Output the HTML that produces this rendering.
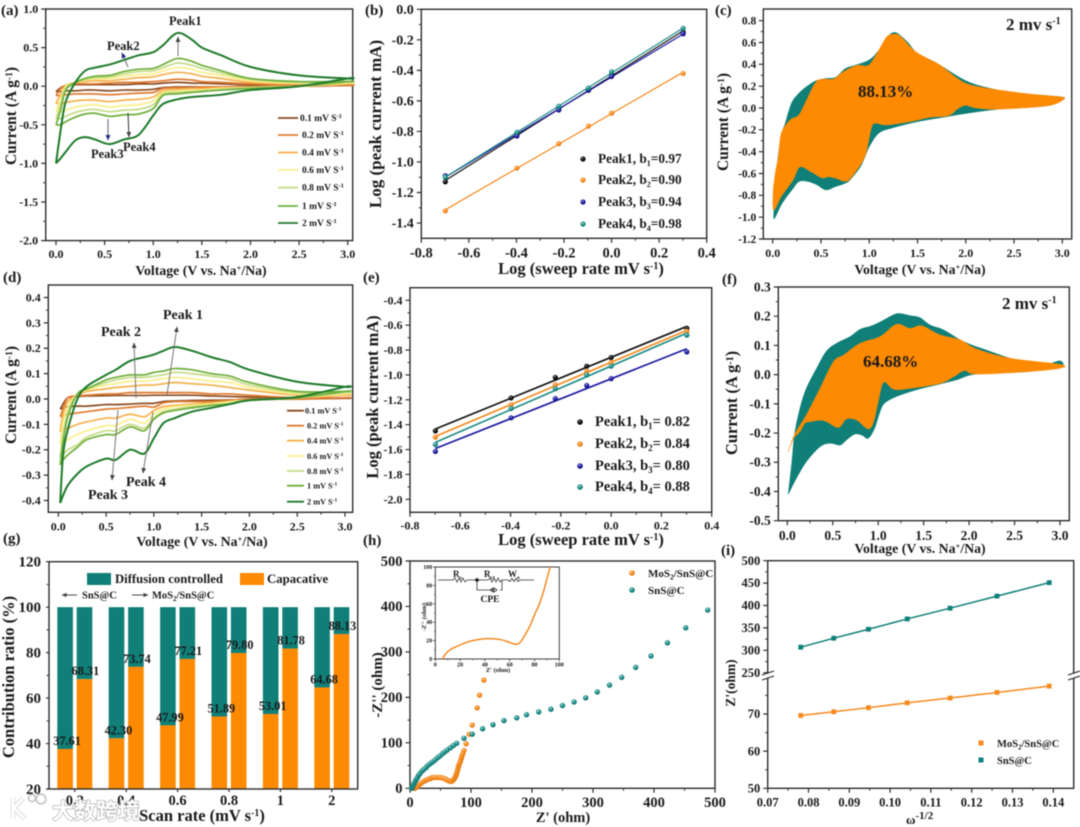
<!DOCTYPE html>
<html lang="en">
<head>
<meta charset="utf-8">
<title>Electrochemical analysis figure</title>
<style>
html,body{margin:0;padding:0;background:#fff;}
#figure{display:block;filter:blur(0.5px);}
text{font-family:"Liberation Serif","Noto Serif CJK SC",serif;font-weight:bold;fill:#1a1a1a;}
.wm{font-family:"Liberation Sans","Noto Sans CJK SC",sans-serif;font-weight:bold;}
</style>
</head>
<body>
<svg id="figure" xmlns="http://www.w3.org/2000/svg" width="1080" height="827" viewBox="0 0 1080 827">
<defs>
  <radialGradient id="sphere-black" cx="40%" cy="35%" r="65%"><stop offset="0" stop-color="#999"/><stop offset=".45" stop-color="#111"/><stop offset="1" stop-color="#000"/></radialGradient>
  <radialGradient id="sphere-orange" cx="40%" cy="35%" r="65%"><stop offset="0" stop-color="#ffd9a8"/><stop offset=".5" stop-color="#f58a1f"/><stop offset="1" stop-color="#e87a10"/></radialGradient>
  <radialGradient id="sphere-blue" cx="40%" cy="35%" r="65%"><stop offset="0" stop-color="#a8a8f0"/><stop offset=".5" stop-color="#1a1aa0"/><stop offset="1" stop-color="#10107a"/></radialGradient>
  <radialGradient id="sphere-teal" cx="40%" cy="35%" r="65%"><stop offset="0" stop-color="#b0e4e0"/><stop offset=".5" stop-color="#1e8c86"/><stop offset="1" stop-color="#0f7570"/></radialGradient>
  <marker id="ah-gray" markerWidth="6" markerHeight="6" refX="5" refY="3" orient="auto"><path d="M0,0.6 L5.5,3 L0,5.4 Z" fill="#444"/></marker>
  <marker id="ah-blue" markerWidth="6" markerHeight="6" refX="5" refY="3" orient="auto"><path d="M0,0.6 L5.5,3 L0,5.4 Z" fill="#1c2a80"/></marker>
  <clipPath id="inset-clip"><rect x="435.3" y="567" width="124" height="92"/></clipPath>
</defs>
<rect width="1080" height="827" fill="#fff"/>

<!-- Panel a -->
<g id="panel-a"></g>
<g>
  <text x="1" y="15" font-size="15">(a)</text>
  <text transform="translate(16 116) rotate(-90)" text-anchor="middle" font-size="15.5">Current (A g<tspan dy="-4" font-size="9.5">-1</tspan><tspan dy="4">)</tspan></text>
  <text x="201" y="275" text-anchor="middle" font-size="13.8">Voltage (V vs. Na<tspan dy="-4" font-size="8.5">+</tspan><tspan dy="4">/Na)</tspan></text>
  <text x="169" y="25" font-size="12.5">Peak1</text>
  <text x="107" y="50" font-size="12.5">Peak2</text>
  <text x="91" y="158" font-size="12.5">Peak3</text>
  <text x="123" y="151" font-size="12.5">Peak4</text>
  <line x1="178" y1="56" x2="178" y2="37" stroke="#777" stroke-width="1" marker-end="url(#ah-gray)"/>
  <line x1="128" y1="67" x2="122" y2="53" stroke="#667" stroke-width="1" marker-end="url(#ah-blue)"/>
  <line x1="108" y1="119" x2="108" y2="140" stroke="#667" stroke-width="1" marker-end="url(#ah-blue)"/>
  <line x1="128" y1="113" x2="129" y2="137" stroke="#333" stroke-width="1" marker-end="url(#ah-gray)"/>
  <g font-size="9.5">
    <line x1="278" y1="118" x2="298" y2="118" stroke="#8b4a20" stroke-width="1.8"/><text x="300" y="121">0.1 mV S<tspan dy="-3" font-size="6.5">-1</tspan></text>
    <line x1="278" y1="135" x2="298" y2="135" stroke="#e07b30" stroke-width="1.8"/><text x="302" y="138">0.2 mV S<tspan dy="-3" font-size="6.5">-1</tspan></text>
    <line x1="278" y1="152.5" x2="298" y2="152.5" stroke="#f5b14c" stroke-width="1.8"/><text x="302" y="155.5">0.4 mV S<tspan dy="-3" font-size="6.5">-1</tspan></text>
    <line x1="278" y1="170" x2="298" y2="170" stroke="#fbef8a" stroke-width="1.8"/><text x="302" y="173">0.6 mV S<tspan dy="-3" font-size="6.5">-1</tspan></text>
    <line x1="278" y1="187.7" x2="298" y2="187.7" stroke="#c5dc85" stroke-width="1.8"/><text x="302" y="190.7">0.8 mV S<tspan dy="-3" font-size="6.5">-1</tspan></text>
    <line x1="278" y1="206" x2="298" y2="206" stroke="#6fae3c" stroke-width="1.8"/><text x="302" y="209">1 mV S<tspan dy="-3" font-size="6.5">-1</tspan></text>
    <line x1="278" y1="223" x2="298" y2="223" stroke="#1f7a2a" stroke-width="1.8"/><text x="302" y="226">2 mV S<tspan dy="-3" font-size="6.5">-1</tspan></text>
  </g>
</g>

<!-- Panel b -->
<g id="panel-b"></g>
<g>
  <text x="365" y="15" font-size="15">(b)</text>
  <text transform="translate(381 124) rotate(-90)" text-anchor="middle" font-size="17">Log (peak current mA)</text>
  <text x="581" y="274" text-anchor="middle" font-size="16.5">Log (sweep rate mV s<tspan dy="-5" font-size="10">-1</tspan><tspan dy="5">)</tspan></text>
  <g font-size="13.3">
    <circle cx="583" cy="159" r="2.6" fill="url(#sphere-black)"/><text x="598" y="163">Peak1, b<tspan dy="3" font-size="8">1</tspan><tspan dy="-3">=0.97</tspan></text>
    <circle cx="583" cy="180" r="2.6" fill="url(#sphere-orange)"/><text x="598" y="184">Peak2, b<tspan dy="3" font-size="8">2</tspan><tspan dy="-3">=0.90</tspan></text>
    <circle cx="583" cy="202" r="2.6" fill="url(#sphere-blue)"/><text x="598" y="206">Peak3, b<tspan dy="3" font-size="8">3</tspan><tspan dy="-3">=0.94</tspan></text>
    <circle cx="583" cy="224" r="2.6" fill="url(#sphere-teal)"/><text x="598" y="228">Peak4, b<tspan dy="3" font-size="8">4</tspan><tspan dy="-3">=0.98</tspan></text>
  </g>
</g>

<!-- Panel c -->
<g id="panel-c"></g>
<g>
  <text x="715" y="15" font-size="15">(c)</text>
  <text transform="translate(728 122) rotate(-90)" text-anchor="middle" font-size="15.5">Current (A g<tspan dy="-4" font-size="9.5">-1</tspan><tspan dy="4">)</tspan></text>
  <text x="920" y="274" text-anchor="middle" font-size="13.8">Voltage (V vs. Na<tspan dy="-4" font-size="8.5">+</tspan><tspan dy="4">/Na)</tspan></text>
  <text x="1006" y="30" font-size="17">2 mv s<tspan dy="-6" font-size="10">-1</tspan></text>
  <text x="858" y="97" font-size="17">88.13%</text>
</g>

<!-- Panel d -->
<g id="panel-d"></g>
<g>
  <text x="3" y="282" font-size="15">(d)</text>
  <text transform="translate(16 395) rotate(-90)" text-anchor="middle" font-size="15.5">Current (A g<tspan dy="-4" font-size="9.5">-1</tspan><tspan dy="4">)</tspan></text>
  <text x="202" y="546" text-anchor="middle" font-size="13.8">Voltage (V vs. Na<tspan dy="-4" font-size="8.5">+</tspan><tspan dy="4">/Na)</tspan></text>
  <text x="163" y="319" font-size="14">Peak 1</text>
  <text x="101" y="336" font-size="14">Peak 2</text>
  <text x="88" y="499" font-size="14">Peak 3</text>
  <text x="126" y="486" font-size="14">Peak 4</text>
  <line x1="167" y1="395" x2="177" y2="327" stroke="#777" stroke-width="1" marker-end="url(#ah-gray)"/>
  <line x1="136" y1="398" x2="134" y2="343" stroke="#777" stroke-width="1" marker-end="url(#ah-gray)"/>
  <line x1="118" y1="410" x2="112" y2="480" stroke="#777" stroke-width="1" marker-end="url(#ah-gray)"/>
  <line x1="153" y1="412" x2="143" y2="473" stroke="#777" stroke-width="1" marker-end="url(#ah-gray)"/>
  <g font-size="8.3">
    <line x1="287" y1="410.7" x2="304" y2="410.7" stroke="#8b4a20" stroke-width="1.8"/><text x="305" y="413.5">0.1 mV S<tspan dy="-3" font-size="5.5">-1</tspan></text>
    <line x1="287" y1="425.7" x2="304" y2="425.7" stroke="#e07b30" stroke-width="1.8"/><text x="307" y="428.5">0.2 mV S<tspan dy="-3" font-size="5.5">-1</tspan></text>
    <line x1="287" y1="440.7" x2="304" y2="440.7" stroke="#f5b14c" stroke-width="1.8"/><text x="307" y="443.5">0.4 mV S<tspan dy="-3" font-size="5.5">-1</tspan></text>
    <line x1="287" y1="456" x2="304" y2="456" stroke="#fbef8a" stroke-width="1.8"/><text x="307" y="458.8">0.6 mV S<tspan dy="-3" font-size="5.5">-1</tspan></text>
    <line x1="287" y1="471" x2="304" y2="471" stroke="#c5dc85" stroke-width="1.8"/><text x="307" y="473.8">0.8 mV S<tspan dy="-3" font-size="5.5">-1</tspan></text>
    <line x1="287" y1="485.7" x2="304" y2="485.7" stroke="#6fae3c" stroke-width="1.8"/><text x="307" y="488.5">1 mV S<tspan dy="-3" font-size="5.5">-1</tspan></text>
    <line x1="287" y1="501.7" x2="304" y2="501.7" stroke="#1f7a2a" stroke-width="1.8"/><text x="307" y="504.5">2 mV S<tspan dy="-3" font-size="5.5">-1</tspan></text>
  </g>
</g>

<!-- Panel e -->
<g id="panel-e"></g>
<g>
  <text x="363" y="282" font-size="15">(e)</text>
  <text transform="translate(378 397) rotate(-90)" text-anchor="middle" font-size="16.5">Log (peak current mA)</text>
  <text x="581" y="545" text-anchor="middle" font-size="16.5">Log (sweep rate mV s<tspan dy="-5" font-size="10">-1</tspan><tspan dy="5">)</tspan></text>
  <g font-size="14.5">
    <circle cx="580" cy="422" r="2.8" fill="url(#sphere-black)"/><text x="595" y="426">Peak1,  b<tspan dy="3" font-size="9">1</tspan><tspan dy="-3">= 0.82</tspan></text>
    <circle cx="580" cy="444" r="2.8" fill="url(#sphere-orange)"/><text x="595" y="448">Peak2,  b<tspan dy="3" font-size="9">2</tspan><tspan dy="-3">= 0.84</tspan></text>
    <circle cx="580" cy="466" r="2.8" fill="url(#sphere-blue)"/><text x="595" y="470">Peak3,  b<tspan dy="3" font-size="9">3</tspan><tspan dy="-3">= 0.80</tspan></text>
    <circle cx="580" cy="487" r="2.8" fill="url(#sphere-teal)"/><text x="595" y="491">Peak4,  b<tspan dy="3" font-size="9">4</tspan><tspan dy="-3">= 0.88</tspan></text>
  </g>
</g>

<!-- Panel f -->
<g id="panel-f"></g>
<g>
  <text x="722" y="284" font-size="15">(f)</text>
  <text transform="translate(737 403) rotate(-90)" text-anchor="middle" font-size="16.5">Current (A g<tspan dy="-4" font-size="10">-1</tspan><tspan dy="4">)</tspan></text>
  <text x="920" y="553" text-anchor="middle" font-size="13.8">Voltage (V vs. Na<tspan dy="-4" font-size="8.5">+</tspan><tspan dy="4">/Na)</tspan></text>
  <text x="1002" y="309" font-size="17">2 mv s<tspan dy="-6" font-size="10">-1</tspan></text>
  <text x="863" y="367" font-size="17">64.68%</text>
</g>

<!-- Panel g -->
<g id="panel-g"></g>
<g>
  <text x="3" y="543" font-size="15">(g)</text>
  <text transform="translate(14 677) rotate(-90)" text-anchor="middle" font-size="16.5">Contribution ratio (%)</text>
  <text x="202" y="821" text-anchor="middle" font-size="16.5">Scan rate (mV s<tspan dy="-5" font-size="10">-1</tspan><tspan dy="5">)</tspan></text>
  <rect x="87" y="573" width="24" height="12" fill="#0f7f78"/>
  <text x="115" y="583" font-size="12.7">Diffusion controlled</text>
  <rect x="240" y="573" width="24" height="12" fill="#fd8a00"/>
  <text x="267" y="583" font-size="12.8">Capacative</text>
  <line x1="77" y1="595" x2="62" y2="595" stroke="#333" stroke-width=".9" marker-end="url(#ah-gray)"/>
  <text x="82" y="598.5" font-size="10.5">SnS@C</text>
  <line x1="132" y1="595" x2="148" y2="595" stroke="#333" stroke-width=".9" marker-end="url(#ah-gray)"/>
  <text x="152" y="598.5" font-size="10.5">MoS<tspan dy="2.5" font-size="7">2</tspan><tspan dy="-2.5">/SnS@C</tspan></text>
</g>

<!-- Panel h -->
<g id="panel-h"></g>
<g>
  <text x="363" y="545" font-size="15">(h)</text>
  <text transform="translate(382 685) rotate(-90)" text-anchor="middle" font-size="15">-Z'' (ohm)</text>
  <text x="563" y="822" text-anchor="middle" font-size="14.5">Z' (ohm)</text>
  <circle cx="632" cy="573" r="2.8" fill="url(#sphere-orange)"/>
  <text x="648" y="577" font-size="11">MoS<tspan dy="2.5" font-size="7.5">2</tspan><tspan dy="-2.5">/SnS@C</tspan></text>
  <circle cx="632" cy="590" r="2.8" fill="url(#sphere-teal)"/>
  <text x="648" y="594" font-size="11">SnS@C</text>
</g>
<g id="panel-h-inset"></g>
<g>
  <text x="498" y="672" text-anchor="middle" font-size="6.5">Z' (ohm)</text>
  <text transform="translate(426 617) rotate(-90)" text-anchor="middle" font-size="6.5">-Z'' (ohm)</text>
  <g fill="none" stroke="#333" stroke-width=".8">
    <path d="M438,580 H453 l2,-2 2,4 2,-4 2,4 2,-4 2,4 2,-2 H483 H488 l2,-2 2,4 2,-4 2,4 2,-4 2,4 2,-2 H508 l2,1.5 2,-3 2,3 2,-3 2,3 2,-1.5 H534"/>
    <path d="M477,580 V590 H488 M500,590 H502 V580 M490,590 l3,-2 v4 z M497,590 l-3,-2 v4 z M493,590 H477"/>
    <circle cx="477" cy="580" r="1.5" fill="#111"/>
  </g>
  <text x="453" y="577" font-size="9">R<tspan dy="2" font-size="5.5">s</tspan></text>
  <text x="484" y="577" font-size="9">R<tspan dy="2" font-size="5.5">ct</tspan></text>
  <text x="508" y="577" font-size="9">W<tspan dy="2" font-size="5.5">o</tspan></text>
  <text x="490" y="602" text-anchor="middle" font-size="9.5">CPE</text>
</g>

<!-- Panel i -->
<g id="panel-i"></g>
<g>
  <rect x="764" y="673.5" width="7" height="4.5" fill="#fff"/>
  <rect x="1070" y="673.5" width="7" height="4.5" fill="#fff"/>
  <path d="M762,675 L774,671 M762,680 L774,676" stroke="#222" stroke-width="1.1" fill="none"/>
  <path d="M1068,675 L1080,671 M1068,680 L1080,676" stroke="#222" stroke-width="1.1" fill="none"/>
  <text x="721" y="555" font-size="15">(i)</text>
  <text transform="translate(735 683) rotate(-90)" text-anchor="middle" font-size="13.5">Z'(ohm)</text>
  <text x="906" y="824" font-size="13">ω<tspan dy="-5" font-size="11">-1/2</tspan></text>
  <rect x="978.5" y="740.5" width="5" height="5" fill="#f58a1f"/>
  <text x="997" y="747" font-size="10.5">MoS<tspan dy="2.5" font-size="7">2</tspan><tspan dy="-2.5">/SnS@C</tspan></text>
  <rect x="978.5" y="757.5" width="5" height="5" fill="#0f7f78"/>
  <text x="997" y="764" font-size="10.5">SnS@C</text>
</g>

<!-- Watermark -->
<g>
  <path d="M13,798 V818 M23,798 L14,808 L25,819" fill="none" stroke="#cfcfcf" stroke-width="4.4"/>
  <path d="M13,798 V818 M23,798 L14,808 L25,819" fill="none" stroke="#fff" stroke-width="3"/>
  <circle cx="32" cy="798" r="3.5" fill="#fff" stroke="#c4c4c4" stroke-width="1.6"/>
  <circle cx="41" cy="799" r="4.8" fill="#fff" stroke="#c4c4c4" stroke-width="1.6"/>
  <text class="wm" x="52" y="819" font-size="22" style="fill:#fff;stroke:#a8a8a8;stroke-width:1.2;paint-order:stroke;">大数跨境</text>
</g>
</svg>

<script>
// ===== Panel a: CV curves, MoS2/SnS@C =====
const aVoltage = [0,.05,.1,.2,.3,.4,.55,.7,.85,1,1.1,1.25,1.4,1.5,1.7,2,2.5,3];
const aUp01 = [-.07,-.02,.01,.02,.02,.02,.02,.02,.03,.03,.04,.05,.04,.04,.03,.02,.01,.01];
const aDown01 = [-.07,-.07,-.06,-.06,-.05,-.05,-.06,-.05,-.05,-.04,-.02,-.01,-.01,-.01,-.01,0,0,.01];
const aUp02 = [-.12,-.03,.01,.03,.03,.03,.04,.05,.05,.06,.07,.09,.08,.06,.05,.03,.01,.01];
const aDown02 = [-.12,-.12,-.11,-.1,-.1,-.1,-.11,-.1,-.09,-.08,-.03,-.02,-.02,-.01,-.01,-.01,0,.01];
const aUp04 = [-.22,-.1,.01,.05,.06,.07,.07,.09,.11,.12,.15,.18,.16,.13,.1,.05,.03,.03];
const aDown04 = [-.22,-.23,-.21,-.19,-.18,-.18,-.2,-.18,-.17,-.14,-.06,-.04,-.03,-.03,-.02,-.01,0,.03];
const aUp06 = [-.32,-.16,0,.05,.08,.09,.1,.13,.15,.16,.2,.24,.22,.18,.14,.07,.04,.04];
const aDown06 = [-.32,-.33,-.31,-.27,-.25,-.24,-.27,-.25,-.24,-.19,-.08,-.06,-.05,-.05,-.03,-.02,0,.04];
const aUp08 = [-.42,-.22,-.02,.05,.09,.11,.12,.16,.19,.2,.24,.3,.27,.23,.17,.09,.05,.05];
const aDown08 = [-.42,-.42,-.39,-.34,-.31,-.3,-.33,-.31,-.3,-.24,-.1,-.08,-.07,-.06,-.04,-.02,0,.05];
const aUp1 = [-.5,-.3,-.05,.05,.1,.13,.14,.19,.22,.23,.28,.36,.32,.27,.2,.1,.06,.06];
const aDown1 = [-.5,-.5,-.46,-.4,-.36,-.35,-.39,-.37,-.36,-.29,-.12,-.1,-.08,-.07,-.05,-.03,0,.06];
const aUp2 = [-1,-.55,-.2,.05,.2,.24,.28,.34,.4,.44,.53,.69,.6,.5,.4,.25,.14,.1];
const aDown2 = [-1,-.93,-.85,-.7,-.66,-.69,-.75,-.69,-.63,-.38,-.23,-.17,-.14,-.13,-.11,-.05,0,.1];
const aXTicks = [0,.5,1,1.5,2,2.5,3];
const aYTicks = [-2,-1.5,-1,-.5,0,.5,1];

// ===== Panel b: log-log peaks =====
const bLogRate = [-.699,-.398,-.222,-.097,0,.301];
const bPeak1 = [-1.13,-.82,-.65,-.53,-.43,-.15];
const bPeak2 = [-1.32,-1.04,-.88,-.765,-.68,-.42];
const bPeak3 = [-1.09,-.83,-.66,-.53,-.44,-.16];
const bPeak4 = [-1.1,-.805,-.635,-.515,-.41,-.125];
const bXTicks = [-.8,-.6,-.4,-.2,0,.2,.4];
const bYTicks = [-1.4,-1.2,-1,-.8,-.6,-.4,-.2,0];

// ===== Panel c: capacitive contribution =====
const cTotalVoltage = [.01,.03,.06,.1,.13,.17,.21,.3,.39,.45,.55,.65,.75,.85,1,1.1,1.2,1.25,1.3,1.4,1.5,1.7,2,2.25,2.5,2.75,3,3,2.84,2.35,2,1.8,1.5,1.25,1.1,1,.95,.9,.8,.75,.65,.55,.45,.35,.27,.2,.1,.02];
const cTotalCurrent = [-.99,-.7,-.42,-.22,-.14,-.02,.07,.16,.22,.25,.27,.28,.36,.39,.44,.53,.66,.69,.68,.6,.5,.41,.25,.18,.14,.12,.1,.08,.02,-.01,-.05,-.08,-.125,-.18,-.23,-.355,-.46,-.55,-.66,-.69,-.72,-.75,-.7,-.67,-.675,-.75,-.87,-1.01];
const cCapVoltage = [.005,.03,.06,.09,.18,.27,.35,.45,.54,.63,.73,.87,.99,1.08,1.18,1.25,1.32,1.46,1.6,1.73,1.94,2.1,2.46,2.75,3,3,2.84,2.35,2.11,2,1.92,1.82,1.63,1.42,1.18,1.06,1.02,.96,.87,.77,.66,.58,.51,.39,.28,.21,.09,.01];
const cCapCurrent = [-.75,-.58,-.44,-.23,-.11,-.065,.07,.24,.265,.265,.33,.39,.39,.5,.65,.675,.66,.53,.455,.395,.255,.2,.15,.12,.1,.07,.02,-.01,0,.025,-.005,-.07,-.085,-.125,-.155,-.14,-.19,-.43,-.57,-.67,-.645,-.63,-.64,-.58,-.54,-.66,-.81,-.935];
const cXTicks = [0,.5,1,1.5,2,2.5,3];
const cYTicks = [-1.2,-1,-.8,-.6,-.4,-.2,0,.2,.4,.6,.8];

// ===== Panel d: CV curves, SnS@C =====
const dVoltage = [.02,.05,.1,.2,.3,.5,.6,.75,.9,1,1.1,1.22,1.4,1.6,1.8,2,2.5,3];
const dUp01 = [-.04,-.02,.005,.01,.012,.013,.014,.014,.014,.015,.015,.015,.015,.012,.01,.008,.003,.003];
const dDown01 = [-.04,-.035,-.03,-.028,-.028,-.022,-.022,-.02,-.017,-.017,-.01,-.008,-.006,-.005,-.004,-.002,0,.003];
const dUp02 = [-.07,-.04,.005,.012,.015,.02,.02,.025,.025,.025,.025,.025,.025,.02,.02,.015,.005,.005];
const dDown02 = [-.07,-.065,-.06,-.055,-.05,-.04,-.038,-.033,-.028,-.032,-.015,-.01,-.01,-.01,-.005,0,0,.005];
const dUp04 = [-.13,-.06,-.01,.015,.03,.04,.045,.05,.055,.055,.06,.065,.06,.055,.045,.035,.015,.015];
const dDown04 = [-.13,-.12,-.115,-.1,-.09,-.075,-.075,-.06,-.07,-.045,-.03,-.025,-.02,-.015,-.01,-.005,.005,.015];
const dUp06 = [-.18,-.09,-.03,.02,.035,.055,.06,.07,.07,.075,.08,.085,.08,.07,.065,.045,.02,.02];
const dDown06 = [-.18,-.17,-.16,-.14,-.125,-.105,-.105,-.08,-.095,-.06,-.04,-.03,-.025,-.02,-.01,-.005,.005,.02];
const dUp08 = [-.23,-.14,-.05,.02,.04,.065,.075,.085,.085,.09,.095,.105,.1,.09,.08,.055,.025,.025];
const dDown08 = [-.23,-.22,-.2,-.18,-.15,-.125,-.125,-.1,-.115,-.075,-.05,-.04,-.03,-.025,-.015,-.005,.005,.025];
const dUp1 = [-.26,-.17,-.07,.02,.04,.075,.085,.095,.095,.105,.11,.12,.115,.1,.09,.065,.03,.03];
const dDown1 = [-.26,-.24,-.22,-.19,-.16,-.14,-.14,-.11,-.125,-.08,-.055,-.045,-.035,-.025,-.02,-.005,.005,.03];
const dUp2 = [-.41,-.22,-.12,0,.05,.095,.115,.15,.165,.175,.19,.205,.19,.165,.145,.115,.068,.048];
const dDown2 = [-.41,-.38,-.34,-.295,-.265,-.235,-.24,-.2,-.215,-.155,-.095,-.075,-.05,-.035,-.02,-.005,.008,.048];
const dXTicks = [0,.5,1,1.5,2,2.5,3];
const dYTicks = [-.4,-.3,-.2,-.1,0,.1,.2,.3,.4];

// ===== Panel e: log-log peaks =====
const eLogRate = [-.699,-.398,-.222,-.097,0,.301];
const ePeak1 = [-1.45,-1.185,-1.02,-.93,-.86,-.625];
const ePeak2 = [-1.5,-1.24,-1.08,-.97,-.9,-.65];
const ePeak3 = [-1.615,-1.345,-1.19,-1.085,-1.03,-.815];
const ePeak4 = [-1.56,-1.27,-1.11,-1,-.93,-.68];
const eXTicks = [-.8,-.6,-.4,-.2,0,.2,.4];
const eYTicks = [-2,-1.8,-1.6,-1.4,-1.2,-1,-.8,-.6,-.4];

// ===== Panel f: capacitive contribution =====
const fTotalVoltage = [.01,.05,.08,.14,.21,.32,.43,.54,.69,.8,.91,1.02,1.17,1.24,1.35,1.46,1.57,1.72,1.94,2.19,2.52,2.82,3,3,2.63,2.08,1.86,1.64,1.42,1.2,1.07,1.02,.96,.89,.82,.74,.65,.58,.47,.36,.21,.1];
const fTotalCurrent = [-.41,-.3,-.205,-.115,-.047,.02,.08,.107,.13,.155,.165,.18,.205,.209,.202,.195,.17,.153,.113,.084,.05,.035,.047,.027,.01,.002,-.018,-.035,-.052,-.075,-.098,-.127,-.184,-.218,-.207,-.204,-.224,-.241,-.235,-.247,-.298,-.355];
const fCapVoltage = [.01,.08,.21,.36,.51,.62,.8,1.02,1.2,1.35,1.48,1.68,1.9,2.08,2.45,3,3,2.63,2.08,1.95,1.83,1.68,1.35,1.17,1.06,1,.95,.89,.76,.65,.56,.4,.25,.19,.14,.07];
const fCapCurrent = [-.265,-.205,-.138,-.047,.045,.067,.107,.13,.172,.158,.167,.136,.119,.088,.056,.035,.022,.01,.002,.014,-.007,-.03,-.047,-.05,-.026,-.092,-.16,-.186,-.155,-.152,-.181,-.157,-.161,-.168,-.195,-.218];
const fXTicks = [0,.5,1,1.5,2,2.5,3];
const fYTicks = [-.5,-.4,-.3,-.2,-.1,0,.1,.2,.3];

// ===== Panel g: stacked contribution bars =====
const gCategories = ['0.2','0.4','0.6','0.8','1','2'];
const gSnS = [37.61,42.30,47.99,51.89,53.01,64.68];
const gMoS = [68.31,73.74,77.21,79.80,81.78,88.13];
const gYTicks = [20,40,60,80,100,120];

// ===== Panel h: Nyquist =====
const hSnSRe = [3,4,5,6.5,8,10,12,14,16,19,22,26,29,33,37,41,45,49,53,57,61,66,71,76.5,88.5,102,119,136,154,175,191,211,231,250,269,288,307,327,347,370,395,422,452,488];
const hSnSIm = [0,3,6,10,14,19,23,28,32,37,41,45,50,54,58,62,67,71,76,80,84,89,94,99,110,119,131,140,149,155,162,168,174,182,190,199,212,227,244,266,291,320,353,392];
const hMoRe = [8,9.5,11,13,14.7,17,20,23,25.7,28,31,34,36.6,39,42,45,47.5,50,53,56,58.5,61,63,65,67,69,71,72.5,74,75,76,77,78,79,80,81,82.5,84,85,86.5,88.5,92,97,102,110,114,121];
const hMoIm = [0,1.5,3,5,7.3,10,13,15.5,17.6,19,20.5,22,23.5,24,24,24,24,23.5,23,21.5,20,18,17,16,15,16,18,21,24,27.5,31,35,40,45,50,54,59,65,70,76,83,98,119,139,177,205,238];
const hTicks = [0,100,200,300,400,500];
const insetRe = [6,8,12,18,25,32,40,47,53,58,62,65,67,69,71,74,77,80,84,87,89,91,93];
const insetIm = [0,5,10,14,18,20.5,22,22,21,19,17,16,16.5,19,23,30,38,48,60,72,82,92,102];
const insetTicks = [0,20,40,60,80,100];

// ===== Panel i: Warburg =====
const iOmega = [.0781,.0862,.0947,.1042,.1147,.1262,.139];
const iSnS = [307,327,347,370,394,421,451];
const iMoS = [69.6,70.6,71.7,73,74.3,75.8,77.5];
const iXTicks = [.07,.08,.09,.1,.11,.12,.13,.14];
const iYTicks = [50,60,70,250,300,350,400,450,500];
const iYMinorTicks = [55,65,75,275,325,375,425,475];

const NS = 'http://www.w3.org/2000/svg';
function node(parent, tag, attrs, txt) {
  const n = document.createElementNS(NS, tag);
  for (const k in attrs) n.setAttribute(k, attrs[k]);
  if (txt !== undefined) n.textContent = txt;
  parent.appendChild(n);
  return n;
}
function scale(d0, d1, r0, r1) {
  return v => r0 + (v - d0) * (r1 - r0) / (d1 - d0);
}
function midpoints(a) {
  const out = [];
  for (let i = 0; i + 1 < a.length; i++) out.push((a[i] + a[i + 1]) / 2);
  return out;
}
function drawAxes(g, o) {
  const lw = o.lw || 1.4, maj = o.maj === undefined ? 4.5 : o.maj, min = o.min === undefined ? 2.5 : o.min;
  const frame = node(g, 'rect', {x:o.x0, y:o.y0, width:o.x1 - o.x0, height:o.y1 - o.y0, fill:'none', stroke:'#2c2c2c', 'stroke-width':lw});
  
  
  const tickPath = (xv, yv, lx, ly) => {
    let d = '';
    xv.forEach(v => { d += 'M' + o.xs(v) + ',' + o.y1 + 'v' + lx; });
    yv.forEach(v => { d += 'M' + o.x0 + ',' + o.ys(v) + 'h-' + ly; });
    return d;
  };
  const majT = node(g, 'path', {d:tickPath(o.xTicks, o.yTicks, maj, maj), stroke:'#2c2c2c', 'stroke-width':lw * .85, fill:'none'});
  
  
  const xMinor = o.noXMinor ? [] : (o.xMinor || midpoints(o.xTicks));
  const minT = node(g, 'path', {d:tickPath(xMinor, o.yMinor || midpoints(o.yTicks), min, min), stroke:'#2c2c2c', 'stroke-width':lw * .7, fill:'none'});
  
  
  o.xTicks.forEach((v, i) => {
    const t = node(g, 'text', {x:o.xs(v), y:o.y1 + o.xDy, 'text-anchor':'middle', 'font-size':o.xFont}, o.xLabels ? o.xLabels[i] : o.xFmt(v));
    
    
  });
  o.yTicks.forEach(v => {
    const t = node(g, 'text', {x:o.x0 - o.yDx, y:o.ys(v) + o.yFont * .33, 'text-anchor':'end', 'font-size':o.yFont}, o.yFmt(v));
    
    
  });
}
function smoothPath(p) {
  let d = 'M' + p[0][0] + ',' + p[0][1];
  for (let i = 0; i < p.length - 1; i++) {
    const a = p[Math.max(i - 1, 0)], b = p[i], c = p[i + 1], e = p[Math.min(i + 2, p.length - 1)];
    d += 'C' + (b[0] + (c[0] - a[0]) / 6) + ',' + (b[1] + (c[1] - a[1]) / 6) + ' ' + (c[0] - (e[0] - b[0]) / 6) + ',' + (c[1] - (e[1] - b[1]) / 6) + ' ' + c[0] + ',' + c[1];
  }
  return d;
}
function drawCvLoops(g, V, ups, downs, xs, ys, colors, names) {
  ups.forEach((up, k) => {
    const pts = V.map((v, i) => [xs(v), ys(up[i])]);
    for (let i = V.length - 1; i >= 0; i--) pts.push([xs(V[i]), ys(downs[k][i])]);
    const c = node(g, 'path', {d:smoothPath(pts), fill:'none', stroke:colors[k], 'stroke-width':k === ups.length - 1 ? 2 : 1.7, 'stroke-linejoin':'round'});
    
    
  });
}
function drawArea(g, V, I, xs, ys, fill, name) {
  const pts = V.map((v, i) => [xs(v), ys(I[i])]);
  pts.push(pts[0]);
  const p = node(g, 'path', {d:smoothPath(pts) + 'Z', fill:fill, stroke:fill, 'stroke-width':.5, 'stroke-linejoin':'round'});
  
  
}
function leastSquares(x, y) {
  const n = x.length;
  const mx = x.reduce((s, v) => s + v, 0) / n, my = y.reduce((s, v) => s + v, 0) / n;
  let a = 0, b = 0;
  x.forEach((v, i) => { a += (v - mx) * (y[i] - my); b += (v - mx) * (v - mx); });
  const m = a / b;
  return v => my + m * (v - mx);
}
function drawPeakSeries(g, X, Y, xs, ys, color, grad, r, lw, name) {
  const fit = leastSquares(X, Y);
  const l = node(g, 'line', {x1:xs(X[0]), y1:ys(fit(X[0])), x2:xs(X[X.length - 1]), y2:ys(fit(X[X.length - 1])), stroke:color, 'stroke-width':lw});
  
  
  X.forEach((v, i) => {
    const c = node(g, 'circle', {cx:xs(v), cy:ys(Y[i]), r:r, fill:grad});
    
    
  });
}
const f1 = v => v.toFixed(1);
const f0 = v => String(v);
const f2 = v => v.toFixed(2);
const cvColors = ['#8b4a20','#e07b30','#f5b14c','#fbef8a','#c5dc85','#6fae3c','#1f7a2a'];
const cvNames = ['0.1','0.2','0.4','0.6','0.8','1','2'];
const TEAL = '#0f7f78', ORANGE = '#fd8a00';

// Panel a
(function () {
  const g = document.getElementById('panel-a');
  const xs = scale(0, 3, 56, 347.7), ys = scale(1, -2, 9, 240.6);
  drawAxes(g, {x0:45.7, x1:352.7, y0:9, y1:240.6, xs, ys, xTicks:aXTicks, yTicks:aYTicks, xFmt:f1, yFmt:f1, xFont:12, yFont:12, xDy:17.5, yDx:7.5});
  drawCvLoops(g, aVoltage, [aUp01,aUp02,aUp04,aUp06,aUp08,aUp1,aUp2], [aDown01,aDown02,aDown04,aDown06,aDown08,aDown1,aDown2], xs, ys, cvColors, cvNames);
})();
// Panel b
(function () {
  const g = document.getElementById('panel-b');
  const xs = scale(-.8, .4, 421.3, 706.7), ys = scale(0, -1.5, 9.3, 238.3);
  drawAxes(g, {x0:421.3, x1:706.7, y0:9.3, y1:238.3, xs, ys, xTicks:bXTicks, yTicks:bYTicks, xFmt:f1, yFmt:f1, xFont:14.5, yFont:14, xDy:19, yDx:7.5});
  drawPeakSeries(g, bLogRate, bPeak1, xs, ys, '#111', 'url(#sphere-black)', 2.6, 1.2, 'peak1');
  drawPeakSeries(g, bLogRate, bPeak2, xs, ys, '#f58a1f', 'url(#sphere-orange)', 2.6, 1.2, 'peak2');
  drawPeakSeries(g, bLogRate, bPeak3, xs, ys, '#1a1aa0', 'url(#sphere-blue)', 2.6, 1.2, 'peak3');
  drawPeakSeries(g, bLogRate, bPeak4, xs, ys, '#1e8c86', 'url(#sphere-teal)', 2.6, 1.2, 'peak4');
})();
// Panel c
(function () {
  const g = document.getElementById('panel-c');
  const xs = scale(0, 3, 772.7, 1062.3), ys = scale(0, -1.2, 108, 239);
  drawAxes(g, {x0:763.3, x1:1071.7, y0:9, y1:239, xs, ys, xTicks:cXTicks, yTicks:cYTicks, xFmt:f1, yFmt:f1, xFont:12, yFont:11.5, xDy:18, yDx:7});
  drawArea(g, cTotalVoltage, cTotalCurrent, xs, ys, TEAL, 'total-current-area');
  drawArea(g, cCapVoltage, cCapCurrent, xs, ys, ORANGE, 'capacitive-current-area');
})();
// Panel d
(function () {
  const g = document.getElementById('panel-d');
  const xs = scale(0, 3, 58.3, 345), ys = scale(0, .4, 399, 297.5);
  drawAxes(g, {x0:48.3, x1:352.7, y0:285, y1:512.3, xs, ys, xTicks:dXTicks, yTicks:dYTicks, xFmt:f1, yFmt:f1, xFont:12, yFont:12, xDy:18, yDx:7.5});
  drawCvLoops(g, dVoltage, [dUp01,dUp02,dUp04,dUp06,dUp08,dUp1,dUp2], [dDown01,dDown02,dDown04,dDown06,dDown08,dDown1,dDown2], xs, ys, cvColors, cvNames);
})();
// Panel e
(function () {
  const g = document.getElementById('panel-e');
  const xs = scale(-.8, .4, 410, 711.7), ys = scale(-.4, -2, 300.3, 499.3);
  drawAxes(g, {x0:410, x1:711.7, y0:287.7, y1:512.3, xs, ys, xTicks:eXTicks, yTicks:eYTicks, xFmt:f1, yFmt:f1, xFont:12, yFont:12, xDy:17, yDx:7.5});
  drawPeakSeries(g, eLogRate, ePeak1, xs, ys, '#111', 'url(#sphere-black)', 2.6, 1.7, 'peak1');
  drawPeakSeries(g, eLogRate, ePeak2, xs, ys, '#f58a1f', 'url(#sphere-orange)', 2.6, 1.7, 'peak2');
  drawPeakSeries(g, eLogRate, ePeak3, xs, ys, '#1a1aa0', 'url(#sphere-blue)', 2.6, 1.7, 'peak3');
  drawPeakSeries(g, eLogRate, ePeak4, xs, ys, '#1e8c86', 'url(#sphere-teal)', 2.6, 1.7, 'peak4');
})();
// Panel f
(function () {
  const g = document.getElementById('panel-f');
  const xs = scale(0, 3, 787.3, 1060), ys = scale(.3, -.5, 287, 520.7);
  drawAxes(g, {x0:778.3, x1:1069.3, y0:287, y1:520.7, xs, ys, xTicks:fXTicks, yTicks:fYTicks, xFmt:f1, yFmt:f1, xFont:13.5, yFont:13.5, xDy:19.5, yDx:7.5});
  drawArea(g, fTotalVoltage, fTotalCurrent, xs, ys, TEAL, 'total-current-area');
  drawArea(g, fCapVoltage, fCapCurrent, xs, ys, ORANGE, 'capacitive-current-area');
})();
// Panel g
(function () {
  const g = document.getElementById('panel-g');
  const groupX = i => 74.8 + i * 51.4;
  const ys = scale(20, 120, 789, 561.7);
  const barW = 15.6, off = 9.7;
  gCategories.forEach((c, i) => {
    [[gSnS[i], -off, 'sns', 2], [gMoS[i], off, 'mos2', 1]].forEach(s => {
      const cx = groupX(i) + s[1];
      const top = node(g, 'rect', {x:cx - barW / 2, y:ys(100), width:barW, height:ys(s[0]) - ys(100), fill:TEAL});
      
      
      const low = node(g, 'rect', {x:cx - barW / 2, y:ys(s[0]), width:barW, height:ys(20) - ys(s[0]), fill:ORANGE});
      
      
    });
  });
  const xs = v => groupX(v);
  drawAxes(g, {x0:49, x1:357.7, y0:561.7, y1:789, xs, ys, xTicks:gCategories.map((c, i) => i), xLabels:gCategories, noXMinor:true, maj:3, yTicks:gYTicks, yFmt:f0, xFont:14.5, yFont:15, xDy:16, yDx:8});
  gCategories.forEach((c, i) => {
    const a = node(g, 'text', {x:groupX(i) - off + 2, y:ys(gSnS[i]) - 4, 'text-anchor':'middle', 'font-size':12.3}, gSnS[i].toFixed(2));
    
    
    const b = node(g, 'text', {x:groupX(i) + off + 1, y:ys(gMoS[i]) - 4, 'text-anchor':'middle', 'font-size':12.3}, gMoS[i].toFixed(2));
    
    
  });
})();
// Panel h
(function () {
  const g = document.getElementById('panel-h');
  const xs = scale(0, 500, 410, 715), ys = scale(0, 500, 788.3, 561);
  drawAxes(g, {x0:410, x1:715, y0:561, y1:788.3, xs, ys, xTicks:hTicks, yTicks:hTicks, xFmt:f0, yFmt:f0, xFont:14.5, yFont:14.5, xDy:18.5, yDx:7.5});
  hMoRe.forEach((v, i) => {
    const c = node(g, 'circle', {cx:xs(v), cy:ys(hMoIm[i]), r:2.7, fill:'url(#sphere-orange)'});
    
    
  });
  hSnSRe.forEach((v, i) => {
    const c = node(g, 'circle', {cx:xs(v), cy:ys(hSnSIm[i]), r:2.7, fill:'url(#sphere-teal)'});
    
    
  });
  const ins = document.getElementById('panel-h-inset');
  const ix = scale(0, 100, 435.3, 559.3), iy = scale(0, 100, 659, 567);
  const bg = node(ins, 'rect', {x:435.3, y:567, width:124, height:92, fill:'#fff'});
  
  
  drawAxes(ins, {x0:435.3, x1:559.3, y0:567, y1:659, xs:ix, ys:iy, xTicks:insetTicks, yTicks:insetTicks, xFmt:f0, yFmt:f0, xFont:6, yFont:6, xDy:7.5, yDx:3, lw:.9, maj:2.2, min:1.2});
  const clip = node(ins, 'g', {'clip-path':'url(#inset-clip)'});
  
  
  const line = node(clip, 'path', {d:smoothPath(insetRe.map((v, i) => [ix(v), iy(insetIm[i])])), fill:'none', stroke:'#f58a1f', 'stroke-width':1.5});
  
  
})();
// Panel i
(function () {
  const g = document.getElementById('panel-i');
  const xs = scale(.07, .14, 767.7, 1053.3);
  const upper = scale(500, 300, 560.7, 650.3), lower = scale(50, 70, 788.3, 714);
  const ys = v => v >= 250 ? upper(v) : lower(v);
  drawAxes(g, {x0:767.7, x1:1073.7, y0:560.7, y1:788.3, xs, ys, xTicks:iXTicks, yTicks:iYTicks, yMinor:iYMinorTicks, xFmt:f2, yFmt:f0, xFont:12.5, yFont:12.5, xDy:18, yDx:7.5});
  [[iSnS, '#0f7f78', 'sns'], [iMoS, '#f58a1f', 'mos2']].forEach(s => {
    const l = node(g, 'path', {d:iOmega.map((v, i) => (i ? 'L' : 'M') + xs(v) + ',' + ys(s[0][i])).join(''), fill:'none', stroke:s[1], 'stroke-width':1.5});
    
    
    iOmega.forEach((v, i) => {
      const r = node(g, 'rect', {x:xs(v) - 2.4, y:ys(s[0][i]) - 2.4, width:4.8, height:4.8, fill:s[1]});
      
      
    });
  });
})();
</script>
</body>
</html>
